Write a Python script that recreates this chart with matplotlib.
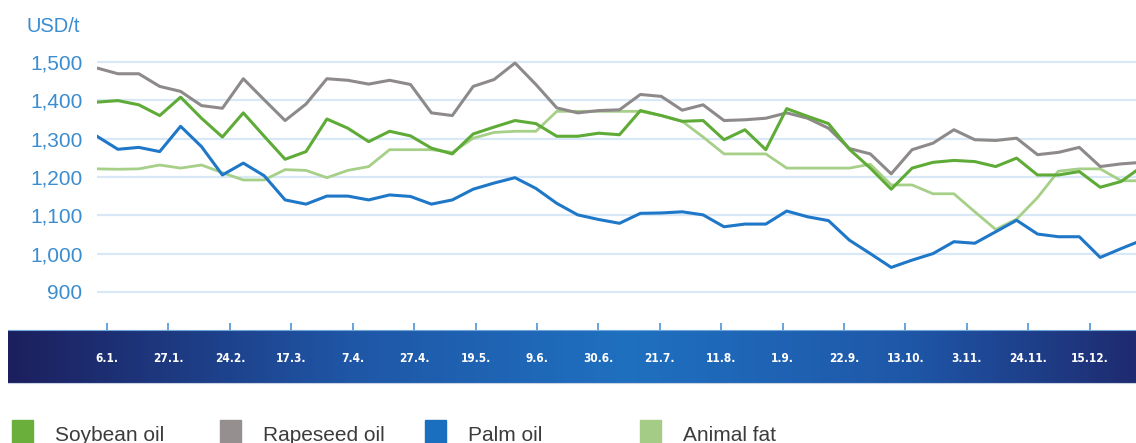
import numpy as np
import matplotlib
matplotlib.use('Agg')
import matplotlib.pyplot as plt
from matplotlib.colors import LinearSegmentedColormap
from matplotlib.patches import Rectangle
from matplotlib.ticker import FuncFormatter

# weekly prices, USD/t
soybean = [1395, 1399, 1388, 1360, 1408, 1353, 1304, 1367, 1306, 1246,
           1266, 1351, 1327, 1292, 1319, 1307, 1275, 1260, 1312, 1330,
           1347, 1339, 1306, 1306, 1314, 1310, 1373, 1360, 1345, 1347,
           1297, 1323, 1271, 1378, 1358, 1339, 1272, 1223, 1168, 1223,
           1238, 1243, 1240, 1227, 1249, 1205, 1205, 1214, 1173, 1188, 1227]
rapeseed = [1484, 1469, 1469, 1436, 1423, 1386, 1379, 1456, 1401, 1347,
            1390, 1456, 1452, 1442, 1452, 1441, 1367, 1360, 1436, 1454,
            1497, 1441, 1380, 1367, 1373, 1375, 1415, 1410, 1374, 1388,
            1347, 1349, 1353, 1367, 1353, 1327, 1274, 1260, 1208, 1271,
            1288, 1323, 1297, 1295, 1301, 1258, 1264, 1277, 1227, 1234, 1238]
palm = [1306, 1272, 1277, 1266, 1332, 1279, 1205, 1236, 1203, 1140,
        1129, 1150, 1150, 1140, 1153, 1149, 1129, 1140, 1168, 1184,
        1198, 1170, 1131, 1101, 1089, 1079, 1105, 1106, 1109, 1101,
        1070, 1077, 1077, 1111, 1096, 1086, 1035, 1000, 964, 983,
        1000, 1031, 1027, 1057, 1087, 1051, 1044, 1044, 990, 1013, 1035]
animal_fat = [1221, 1220, 1221, 1231, 1223, 1231, 1211, 1192, 1192, 1219,
              1217, 1198, 1217, 1227, 1271, 1271, 1271, 1264, 1301, 1316,
              1319, 1319, 1371, 1371, 1371, 1371, 1371, 1360, 1345, 1304,
              1260, 1260, 1260, 1223, 1223, 1223, 1223, 1233, 1179, 1179,
              1156, 1156, 1109, 1063, 1090, 1146, 1215, 1221, 1221, 1190, 1190]

tick_labels = ['6.1.', '27.1.', '24.2.', '17.3.', '7.4.', '27.4.', '19.5.', '9.6.',
               '30.6.', '21.7.', '11.8.', '1.9.', '22.9.', '13.10.', '3.11.',
               '24.11.', '15.12.']
y_ticks = [900, 1000, 1100, 1200, 1300, 1400, 1500]

series = ['Soybean oil', 'Rapeseed oil', 'Palm oil', 'Animal fat']
line_colors = ['#5fab37', '#8e8a8a', '#1f77c8', '#a6cf88']
legend_colors = ['#6aae3c', '#958f8f', '#1a6fbf', '#a5cc87']

plt.rcParams['font.family'] = ['Liberation Sans', 'DejaVu Sans']

W, H = 1136, 443


def box(x0, y0, x1, y1):
    # pixel box (top-left origin) -> figure fraction
    return [x0 / W, 1 - y1 / H, (x1 - x0) / W, (y1 - y0) / H]


fig = plt.figure(figsize=(W / 100, H / 100), dpi=100)

x = np.arange(len(soybean))
x_right = (1136 - 97) / 20.9
ax = fig.add_axes(box(97, 45, 1136, 300))
ax.plot(x, animal_fat, color=line_colors[3], lw=2.0, zorder=2)
ax.plot(x, rapeseed, color=line_colors[1], lw=2.2, zorder=3)
ax.plot(x, palm, color=line_colors[2], lw=2.2, zorder=4)
ax.plot(x, soybean, color=line_colors[0], lw=2.2, zorder=5)

ax.set_xlim(0, x_right)
ax.set_ylim(879, 1544)
ax.set_yticks(y_ticks)
ax.yaxis.set_major_formatter(FuncFormatter(lambda v, p: f'{v:,.0f}'))
ax.set_xticks([])
ax.tick_params(axis='y', length=0, pad=10.5, labelsize=15, labelcolor='#3a8dd0')
ax.grid(axis='y', color='#d8e8f6', lw=1.6, zorder=0)
for s in ax.spines.values():
    s.set_visible(False)

fig.text(27 / W, 1 - 32 / H, 'USD/t', fontsize=14.5, color='#3a8dd0', va='baseline')

# blue date band
axb = fig.add_axes(box(8, 330, 1136, 383))
x_left = -(97 - 8) / 20.9
band_cmap = LinearSegmentedColormap.from_list(
    'band', [(0, '#1c1f5e'), (0.3, '#1f56a6'), (0.55, '#2070c0'),
             (0.8, '#1f57a8'), (1, '#1e2b70')])
axb.imshow(np.linspace(0, 1, 256)[None, :], aspect='auto', cmap=band_cmap,
           extent=[x_left, x_right, 0, 1])
axb.set_xlim(x_left, x_right)
axb.set_ylim(0, 1)
tick_pos = np.linspace(0.48, 47.5, len(tick_labels))
axb.set_xticks(tick_pos)
axb.xaxis.tick_top()
axb.tick_params(axis='x', direction='out', length=5, width=1.2, color='#4d94d6',
                labeltop=False)
axb.set_yticks([])
for side in ['left', 'right']:
    axb.spines[side].set_visible(False)
axb.spines['top'].set_color('#6fa6da')
axb.spines['bottom'].set_color('#c9d3e3')
for p, lab in zip(tick_pos, tick_labels):
    axb.text(p, 0.47, lab, ha='center', va='center', color='white', fontsize=8.5,
             fontweight='bold', family='DejaVu Sans', fontstretch='condensed')

# legend
legend_x = [12, 220, 425, 640]
for lx, name, c in zip(legend_x, series, legend_colors):
    fig.patches.append(Rectangle((lx / W, 0), 21 / W, 23 / H, color=c,
                                 transform=fig.transFigure, figure=fig))
    fig.text((lx + 43) / W, 1 - 441 / H, name, fontsize=15, color='#3c3c3c',
             va='baseline')

fig.savefig('out.png', dpi=100)
